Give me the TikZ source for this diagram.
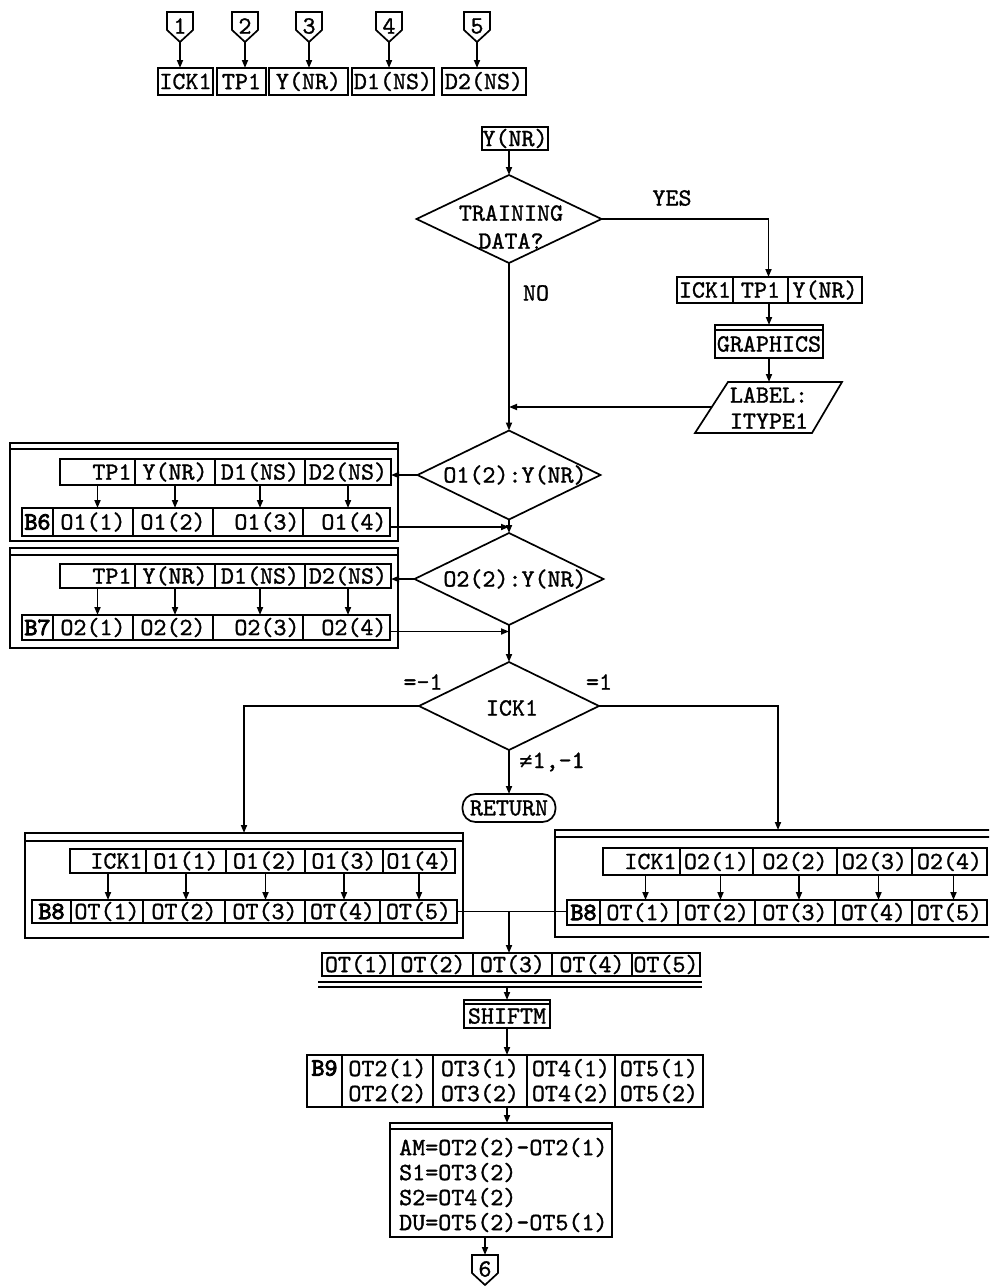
\documentclass[tikz,border=0pt]{standalone}
\usepackage{fontspec}
\setmonofont[UprightFeatures={FakeBold=1.2},BoldFont=lmmono10-regular.otf,BoldFeatures={FakeBold=3.5}]{lmmono10-regular.otf}
\newfontfamily\symfont{DejaVu Sans Mono}
\usetikzlibrary{arrows.meta,shapes.geometric}
\newcommand\tf{\ttfamily\fontsize{24.8}{25}\selectfont}
\tikzset{
  ln/.style={line width=1.7pt},
  arr/.style={ln,-{Triangle[length=8pt,width=6pt]}},
  cellst/.style={draw,ln,inner sep=0pt,outer sep=0pt,font=\tf},
  txt/.style={inner sep=0pt,font=\tf},
  dia/.style={draw,ln,diamond,inner sep=0pt,outer sep=0pt},
}
% centred cell: name,x1,x2,y1,y2,text
\newcommand\cbox[6]{%
  \pgfmathsetmacro\cbw{#3-#2}\pgfmathsetmacro\cbh{#5-#4}%
  \pgfmathsetmacro\cbx{(#2+#3)/2}\pgfmathsetmacro\cby{(#4+#5)/2}%
  \node[cellst,align=center,minimum width=\cbw pt,minimum height=\cbh pt] (#1) at (\cbx,\cby) {#6};}
% right aligned cell
\newcommand\rbox[6]{%
  \pgfmathsetmacro\cbw{#3-#2}\pgfmathsetmacro\cbh{#5-#4}\pgfmathsetmacro\cbt{#3-#2-7}%
  \pgfmathsetmacro\cbx{(#2+#3)/2}\pgfmathsetmacro\cby{(#4+#5)/2}%
  \node[cellst,minimum width=\cbw pt,minimum height=\cbh pt,text width=\cbt pt,align=right] (#1) at (\cbx,\cby) {#6};}
% box with header line: name,x1,x2,y1,y2,offset
\newcommand\obox[6]{%
  \pgfmathsetmacro\cbw{#3-#2}\pgfmathsetmacro\cbh{#5-#4}%
  \pgfmathsetmacro\cbx{(#2+#3)/2}\pgfmathsetmacro\cby{(#4+#5)/2}%
  \node[cellst,minimum width=\cbw pt,minimum height=\cbh pt] (#1) at (\cbx,\cby) {};
  \draw[ln] ([yshift=-#6pt]#1.north west) -- ([yshift=-#6pt]#1.north east);}
% off-page connector: name,x,ytop,text
\newcommand\opg[4]{%
  \coordinate (#1n) at (#2,#3);
  \coordinate (#1t) at (#2,#3+30);
  \draw[ln] (#2-13,#3) -- (#2+13,#3) -- (#2+13,#3+18) -- (#1t) -- (#2-13,#3+18) -- cycle;
  \node[txt] (#1) at (#2,#3+14) {#4};}
\begin{document}
\begin{tikzpicture}[x=1pt,y=-1pt]
\useasboundingbox (0,0) rectangle (989,1288);
\clip (0,0) rectangle (989,1288);
% ---------- top row
\opg{p1}{180}{12}{1}
\opg{p2}{245}{12}{2}
\opg{p3}{309}{12}{3}
\opg{p4}{389}{12}{4}
\opg{p5}{477}{12}{5}
\cbox{t1}{158}{213}{68}{95}{ICK1}
\cbox{t2}{217}{266}{68}{95}{TP1}
\cbox{t3}{269}{348}{68}{95}{Y(NR)}
\cbox{t4}{352}{434}{68}{95}{D1(NS)}
\cbox{t5}{442}{526}{68}{95}{D2(NS)}
\foreach \k in {1,...,5} {\draw[arr] (p\k t) -- (p\k t |- t\k.north);}
% ---------- training data
\cbox{ynr}{482}{548}{127}{150}{Y(NR)}
\node[dia,minimum width=185pt,minimum height=88pt] (trn) at (509,219) {};
\node[txt,align=center,font=\ttfamily\fontsize{24.8}{28}\selectfont] (trntxt) at (511,227) {TRAINING\\DATA?};
\node[txt] (yes) at (672,198) {YES};
\node[txt] (no) at (536,293) {NO};
\draw[arr] (ynr.south -| trn.north) -- (trn.north);
% right branch
\cbox{r1}{677}{733}{277}{303}{ICK1}
\cbox{r2}{733}{788}{277}{303}{TP1}
\cbox{r3}{788}{862}{277}{303}{Y(NR)}
\draw[arr] (trn.east) -| ([xshift=8pt]r2.north);
\obox{gr}{715}{823}{325}{358}{5}
\node[txt] (grtxt) at (769,344) {GRAPHICS};
\draw[arr] (gr.north |- r2.south) -- (gr.north);
\coordinate (lbA) at (728,382);
\coordinate (lbB) at (842,382);
\coordinate (lbC) at (812,433);
\coordinate (lbD) at (695,433);
\coordinate (lbw) at (711.5,407);
\draw[ln] (lbA) -- (lbB) -- (lbC) -- (lbD) -- cycle;
\node[txt,align=center,font=\ttfamily\fontsize{24.8}{26}\selectfont] (lbl) at (769,408) {LABEL:\\ITYPE1};
\draw[arr] (gr.south) -- (gr.south |- lbA);
\draw[arr] (lbw) -- (lbw -| trn.south);
% ---------- O1
\node[dia,minimum width=183pt,minimum height=89pt] (o1) at (509,475) {};
\node[txt] (o1txt) at (515,475) {O1(2):Y(NR)};
\draw[arr] (trn.south) -- (o1.north);
\obox{b6}{10}{398}{443}{541}{6}
\rbox{b6u1}{60}{135}{459}{485}{TP1}
\cbox{b6u2}{135}{215}{459}{485}{Y(NR)}
\cbox{b6u3}{215}{305}{459}{485}{D1(NS)}
\cbox{b6u4}{305}{391}{459}{485}{D2(NS)}
\cbox{b6l1}{22}{53}{508}{536}{\bfseries B6}
\cbox{b6l2}{53}{133}{508}{536}{O1(1)}
\cbox{b6l3}{133}{213}{508}{536}{O1(2)}
\rbox{b6l4}{213}{303}{508}{536}{O1(3)}
\rbox{b6l5}{303}{390}{508}{536}{O1(4)}
\foreach \k in {1,...,4} {\draw[arr] (b6u\k.south) -- (b6u\k.south |- b6l1.north);}
\draw[arr] (o1.west) -- (o1.west -| b6u4.east);
% ---------- O2
\node[dia,minimum width=189pt,minimum height=92pt] (o2) at (509,579) {};
\node[txt] (o2txt) at (515,579) {O2(2):Y(NR)};
\draw[arr] ([yshift=-5pt]b6l5.east) -- ([yshift=-5pt]b6l5.east -| o1.south);
\draw[arr] (o1.south) -- (o2.north);
\obox{b7}{10}{398}{548}{648}{7}
\rbox{b7u1}{60}{135}{564}{588}{TP1}
\cbox{b7u2}{135}{215}{564}{588}{Y(NR)}
\cbox{b7u3}{215}{305}{564}{588}{D1(NS)}
\cbox{b7u4}{305}{391}{564}{588}{D2(NS)}
\cbox{b7l1}{22}{53}{615}{640}{\bfseries B7}
\cbox{b7l2}{53}{133}{615}{640}{O2(1)}
\cbox{b7l3}{133}{213}{615}{640}{O2(2)}
\rbox{b7l4}{213}{303}{615}{640}{O2(3)}
\rbox{b7l5}{303}{390}{615}{640}{O2(4)}
\foreach \k in {1,...,4} {\draw[arr] (b7u\k.south) -- (b7u\k.south |- b7l1.north);}
\draw[arr] (o2.west) -- (o2.west -| b7u4.east);
\draw[arr] ([yshift=-4pt]b7l5.east) -- ([yshift=-4pt]b7l5.east -| o2.south);
% ---------- ICK1
\node[dia,minimum width=180pt,minimum height=88pt] (ick) at (509,706) {};
\node[txt] (icktxt) at (512,708) {ICK1};
\draw[arr] (o2.south) -- (ick.north);
\node[txt] (lm1) at (423,682) {=-1};
\node[txt] (lp1) at (599,682) {=1};
\node[txt] (lne) at (552,762) {{\symfont\fontsize{22}{25}\selectfont ≠}1,-1};
\node[cellst,rounded corners=13pt,minimum width=93pt,minimum height=28pt] (ret) at (509,808) {RETURN};
\draw[arr] (ick.south) -- (ret.north);
% ---------- B8 left
\obox{b8L}{25}{463}{833}{938}{8}
\rbox{b8Lu1}{70}{146}{849}{873}{ICK1}
\cbox{b8Lu2}{146}{226}{849}{873}{O1(1)}
\cbox{b8Lu3}{226}{305}{849}{873}{O1(2)}
\cbox{b8Lu4}{305}{383}{849}{873}{O1(3)}
\cbox{b8Lu5}{383}{455}{849}{873}{O1(4)}
\cbox{b8Ll1}{32}{71}{900}{923}{\bfseries B8}
\cbox{b8Ll2}{71}{143}{900}{923}{OT(1)}
\cbox{b8Ll3}{143}{225}{900}{923}{OT(2)}
\cbox{b8Ll4}{225}{305}{900}{923}{OT(3)}
\cbox{b8Ll5}{305}{380}{900}{923}{OT(4)}
\cbox{b8Ll6}{380}{457}{900}{923}{OT(5)}
\foreach \k in {1,...,5} {\draw[arr] (b8Lu\k.south) -- (b8Lu\k.south |- b8Ll1.north);}
\draw[arr] (ick.west) -| (b8L.north);
% ---------- B8 right
\obox{b8R}{555}{1001}{830}{937}{7}
\rbox{b8Ru1}{603}{680}{848}{875}{ICK1}
\cbox{b8Ru2}{680}{753}{848}{875}{O2(1)}
\cbox{b8Ru3}{753}{837}{848}{875}{O2(2)}
\cbox{b8Ru4}{837}{912}{848}{875}{O2(3)}
\cbox{b8Ru5}{912}{987}{848}{875}{O2(4)}
\cbox{b8Rl1}{567}{600}{900}{925}{\bfseries B8}
\cbox{b8Rl2}{600}{678}{900}{925}{OT(1)}
\cbox{b8Rl3}{678}{755}{900}{925}{OT(2)}
\cbox{b8Rl4}{755}{835}{900}{925}{OT(3)}
\cbox{b8Rl5}{835}{912}{900}{925}{OT(4)}
\cbox{b8Rl6}{912}{987}{900}{925}{OT(5)}
\foreach \k in {1,...,5} {\draw[arr] ([xshift=4pt]b8Ru\k.south) -- ([xshift=4pt]b8Ru\k.south |- b8Rl1.north);}
\draw[arr] (ick.east) -| (b8R.north);
% ---------- join
\coordinate (j8) at (b8Ll6.east -| ick.south);
\draw[ln] (b8Ll6.east) -- (j8);
\draw[ln] (b8Rl1.west |- j8) -- (j8);
% ---------- OT row
\cbox{ot1}{322}{393}{953}{976}{OT(1)}
\cbox{ot2}{393}{473}{953}{976}{OT(2)}
\cbox{ot3}{473}{552}{953}{976}{OT(3)}
\cbox{ot4}{552}{632}{953}{976}{OT(4)}
\cbox{ot5}{632}{700}{953}{976}{OT(5)}
\draw[ln] ([xshift=-4pt,yshift=-6pt]ot1.south west) -- ([xshift=2pt,yshift=-6pt]ot5.south east);
\draw[ln] ([xshift=-4pt,yshift=-11pt]ot1.south west) -- ([xshift=2pt,yshift=-11pt]ot5.south east);
\coordinate (otb) at ([yshift=-11pt]ot3.south);
\draw[arr] (j8) -- (j8 |- ot1.north);
% ---------- SHIFTM
\obox{sh}{464}{550}{1000}{1028}{4}
\node[txt] (shtxt) at (507,1016) {SHIFTM};
\draw[arr] (otb -| sh.north) -- (sh.north);
% ---------- B9
\cbox{b9a}{307}{342}{1055}{1107}{}
\node[txt] (b9lbl) at (324.5,1068) {\bfseries B9};
\cbox{b9b}{342}{433}{1055}{1107}{OT2(1)\\OT2(2)}
\cbox{b9c}{433}{527}{1055}{1107}{OT3(1)\\OT3(2)}
\cbox{b9d}{527}{615}{1055}{1107}{OT4(1)\\OT4(2)}
\cbox{b9e}{615}{703}{1055}{1107}{OT5(1)\\OT5(2)}
\draw[arr] (sh.south) -- (sh.south |- b9c.north);
% ---------- formula box
\obox{frm}{390}{612}{1123}{1237}{6}
\node[txt,anchor=west,align=left] (frmtxt) at (399,1185) {AM=OT2(2)-OT2(1)\\S1=OT3(2)\\S2=OT4(2)\\DU=OT5(2)-OT5(1)};
\draw[arr] (sh.south |- b9c.south) -- (sh.south |- frm.north);
% ---------- connector 6
\opg{p6}{485}{1255}{6}
\draw[arr] (frm.south -| p6n) -- (p6n);
\end{tikzpicture}
\end{document}
